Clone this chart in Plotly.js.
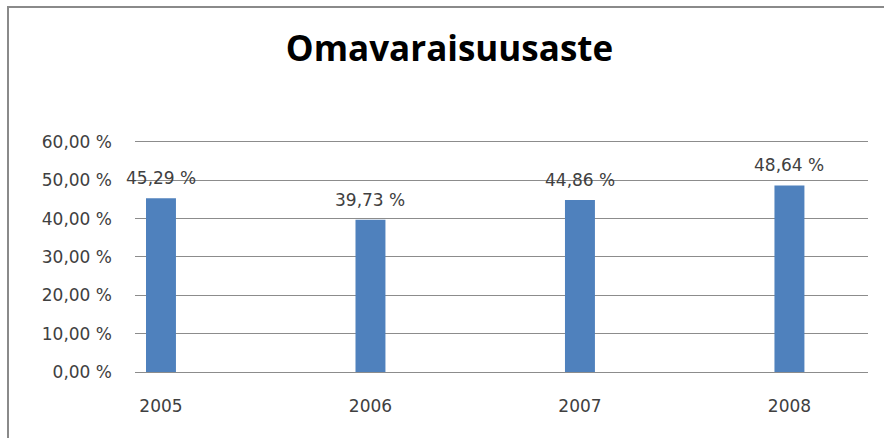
<!DOCTYPE html>
<html>
<head>
<meta charset="utf-8">
<script src="https://cdn.plot.ly/plotly-3.0.1.min.js"></script>
<style>
  html, body { margin: 0; padding: 0; background: #fff; }
  #wrap { position: relative; width: 884px; height: 438px; overflow: hidden; }
  #chart { width: 884px; height: 438px; }
  #frame { position: absolute; left: 7px; top: 6px; width: 1000px; height: 1000px;
           border-left: 2px solid #8a8a8a; border-top: 2px solid #8a8a8a; pointer-events: none; }
</style>
</head>
<body>
<div id="wrap"><div id="chart"></div><div id="frame"></div></div>
<script>
const years = ['2005', '2006', '2007', '2008'];
const values = [45.29, 39.73, 44.86, 48.64];
const valueLabels = ['45,29 %', '39,73 %', '44,86 %', '48,64 %'];
const yTickVals = [0, 10, 20, 30, 40, 50, 60];
const yTickText = ['0,00 %', '10,00 %', '20,00 %', '30,00 %', '40,00 %', '50,00 %', '60,00 %'];
const chartTitle = 'Omavaraisuusaste';

const xIdx = years.map((_, i) => i);
const txtFont = { family: 'DejaVu Sans, Verdana, sans-serif', size: 17, color: '#404040' };

const trace = {
  type: 'bar',
  x: xIdx,
  y: values,
  width: 0.143,
  marker: { color: '#4f81bd', line: { width: 0 } },
  hoverinfo: 'skip'
};

const annotations = values.map((v, i) => ({
  x: i, y: v, xref: 'x', yref: 'y',
  text: valueLabels[i], showarrow: false,
  yanchor: 'bottom', xanchor: 'center', yshift: 8,
  font: txtFont
}));

const layout = {
  width: 884, height: 438,
  margin: { l: 135, r: 16, t: 140, b: 66 },
  paper_bgcolor: '#ffffff', plot_bgcolor: '#ffffff',
  showlegend: false,
  title: {
    text: chartTitle,
    font: { family: 'Open Sans, sans-serif', size: 35, color: '#000000', weight: 700 },
    x: 449.5 / 884, xanchor: 'center', xref: 'container',
    y: 1 - 49 / 438, yanchor: 'middle', yref: 'container'
  },
  xaxis: {
    range: [-0.124, 3.375],
    tickvals: xIdx, ticktext: years,
    showgrid: false, zeroline: false, showline: false,
    ticks: '', ticklabelstandoff: 22,
    tickfont: txtFont, fixedrange: true
  },
  yaxis: {
    range: [0, 60.5],
    tickvals: yTickVals, ticktext: yTickText,
    showgrid: true, gridcolor: '#8c8c8c', gridwidth: 1,
    zeroline: true, zerolinecolor: '#8c8c8c', zerolinewidth: 1,
    showline: false, ticks: '', ticklabelstandoff: 22,
    tickfont: txtFont, fixedrange: true
  },
  annotations: annotations
};
Plotly.newPlot('chart', [trace], layout, { displayModeBar: false, staticPlot: true });
</script>
</body>
</html>
